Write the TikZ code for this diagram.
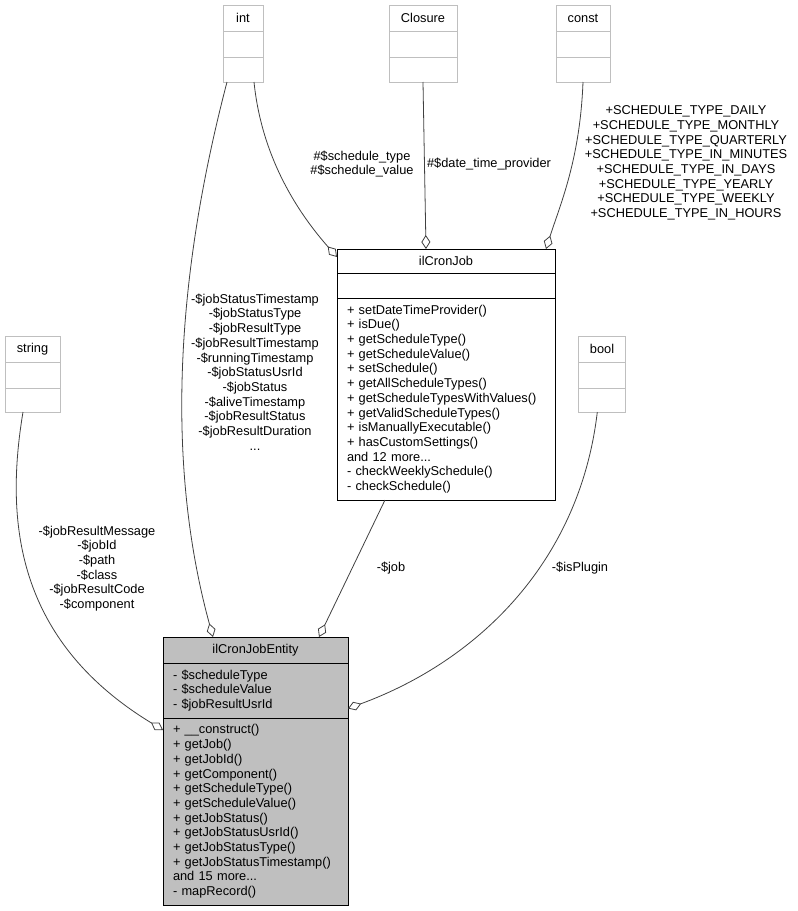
\documentclass[tikz,border=0pt]{standalone}
\usepackage{fontspec}
\setmainfont{Liberation Sans}
\usepackage{tikz}
\usetikzlibrary{shapes,arrows.meta,positioning}
\definecolor{boxgray}{HTML}{BFBFBF}
\definecolor{edgegray}{HTML}{404040}
\newcommand{\doxfont}{\fontsize{12.8}{14.7}\selectfont}

\begin{document}
\begin{tikzpicture}[x=1pt, y=-1pt,
  typepart/.style={draw=boxgray, line width=0.9pt, outer sep=0pt, inner sep=0pt, font=\doxfont},
  classpart/.style={draw=black, line width=0.9pt, outer sep=0pt, inner xsep=10pt, inner ysep=0pt, font=\doxfont, align=left},
  entitypart/.style={classpart, fill=boxgray},
  member/.style={font=\doxfont, align=center, inner sep=0pt},
  aggr/.style={draw=edgegray, line width=0.8pt, -{Diamond[open, length=14pt, width=9pt]}}]
\useasboundingbox (0,0) rectangle (798,911);

% type boxes
\node[typepart, minimum width=40pt, minimum height=26pt] (int) at (243,18) {int};
\node[typepart, minimum width=40pt, minimum height=26pt, below=0pt of int] (int-a) {};
\node[typepart, minimum width=40pt, minimum height=25pt, below=0pt of int-a] (int-o) {};
\node[typepart, minimum width=68pt, minimum height=26pt] (clo) at (423,18) {Closure};
\node[typepart, minimum width=68pt, minimum height=26pt, below=0pt of clo] (clo-a) {};
\node[typepart, minimum width=68pt, minimum height=25pt, below=0pt of clo-a] (clo-o) {};
\node[typepart, minimum width=54pt, minimum height=26pt] (con) at (583,18) {const};
\node[typepart, minimum width=54pt, minimum height=26pt, below=0pt of con] (con-a) {};
\node[typepart, minimum width=54pt, minimum height=25pt, below=0pt of con-a] (con-o) {};
\node[typepart, minimum width=55pt, minimum height=26pt] (str) at (32.5,349) {string};
\node[typepart, minimum width=55pt, minimum height=26pt, below=0pt of str] (str-a) {};
\node[typepart, minimum width=55pt, minimum height=24pt, below=0pt of str-a] (str-o) {};
\node[typepart, minimum width=47pt, minimum height=26pt] (bool) at (602,349) {bool};
\node[typepart, minimum width=47pt, minimum height=26pt, below=0pt of bool] (bool-a) {};
\node[typepart, minimum width=47pt, minimum height=24pt, below=0pt of bool-a] (bool-o) {};
%============
\node[classpart, minimum width=218pt, minimum height=24pt] (job) at (446,261) {ilCronJob};
\node[classpart, minimum width=218pt, minimum height=25pt, below=0pt of job] (job-a) {};
\node[classpart, text width=198pt, minimum height=202pt, below=0pt of job-a] (job-o) {%
+ setDateTimeProvider()\\
+ isDue()\\
+ getScheduleType()\\
+ getScheduleValue()\\
+ setSchedule()\\
+ getAllScheduleTypes()\\
+ getScheduleTypesWithValues()\\
+ getValidScheduleTypes()\\
+ isManuallyExecutable()\\
+ hasCustomSettings()\\
and 12 more...\\
- checkWeeklySchedule()\\
- checkSchedule()};
%============
\node[entitypart, minimum width=185pt, minimum height=26pt] (ent) at (255.5,650) {ilCronJobEntity};
\node[entitypart, text width=165pt, minimum height=55pt, below=0pt of ent] (ent-a) {%
- \$scheduleType\\
- \$scheduleValue\\
- \$jobResultUsrId};
\node[entitypart, text width=165pt, minimum height=187pt, below=0pt of ent-a] (ent-o) {%
+ \_\_construct()\\
+ getJob()\\
+ getJobId()\\
+ getComponent()\\
+ getScheduleType()\\
+ getScheduleValue()\\
+ getJobStatus()\\
+ getJobStatusUsrId()\\
+ getJobStatusType()\\
+ getJobStatusTimestamp()\\
and 15 more...\\
- mapRecord()};
%==========

\draw[aggr] ([xshift=-9.5pt]str-o.south) .. controls (5,520) and (15,640) .. ([yshift=-12pt]ent-o.north west);
\draw[aggr] ([xshift=-16pt]int-o.south) .. controls (170,300) and (170,480) .. ([xshift=-42.5pt]ent.north);
\draw[aggr] ([xshift=11pt]int-o.south) .. controls (262,160) and (300,215) .. ([yshift=4pt]job.west);
\draw[aggr] (clo-o.south) -- ([xshift=-20pt]job.north);
\draw[aggr] (con-o.south) .. controls (580,160) and (560,205) .. ([xshift=-9pt]job.north east);
\draw[aggr] ([xshift=-61pt]job-o.south) -- ([xshift=-29pt]ent.north east);
\draw[aggr] ([xshift=-4.7pt]bool-o.south) .. controls (580,560) and (480,660) .. ([yshift=-18pt]ent-a.east);

\node[member] (str-lbl) at (97,568.5) {-\$jobResultMessage\\-\$jobId\\-\$path\\-\$class\\-\$jobResultCode\\-\$component};
\node[member] (int-lbl) at (255,372) {-\$jobStatusTimestamp\\-\$jobStatusType\\-\$jobResultType\\-\$jobResultTimestamp\\-\$runningTimestamp\\-\$jobStatusUsrId\\-\$jobStatus\\-\$aliveTimestamp\\-\$jobResultStatus\\-\$jobResultDuration\\...};
\node[member] (type-lbl) at (362,164) {\#\$schedule\_type\\\#\$schedule\_value};
\node[member] (clo-lbl) at (489,164) {\#\$date\_time\_provider};
\node[member] (con-lbl) at (686,163) {+SCHEDULE\_TYPE\_DAILY\\+SCHEDULE\_TYPE\_MONTHLY\\+SCHEDULE\_TYPE\_QUARTERLY\\+SCHEDULE\_TYPE\_IN\_MINUTES\\+SCHEDULE\_TYPE\_IN\_DAYS\\+SCHEDULE\_TYPE\_YEARLY\\+SCHEDULE\_TYPE\_WEEKLY\\+SCHEDULE\_TYPE\_IN\_HOURS};
\node[member] (job-lbl) at (391,568) {-\$job};
\node[member] (bool-lbl) at (580,568) {-\$isPlugin};

\end{tikzpicture}
\end{document}
